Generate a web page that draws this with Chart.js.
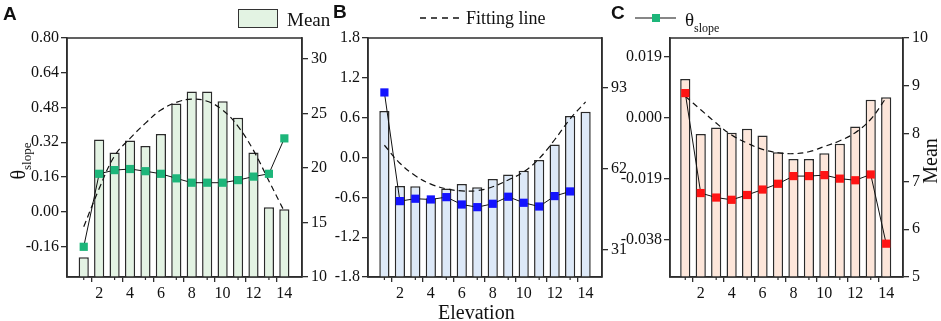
<!DOCTYPE html>
<html><head><meta charset="utf-8">
<script src="https://cdn.jsdelivr.net/npm/chart.js@4.4.1/dist/chart.umd.min.js"></script>
<style>
html,body{margin:0;padding:0;background:#fff;width:941px;height:321px;overflow:hidden;}
canvas{position:absolute;left:0;top:0;}
.t{position:absolute;font-family:'Liberation Serif','Times New Roman',serif;color:#111;white-space:nowrap;line-height:1;}
.lt{position:absolute;font-family:'Liberation Sans',Arial,sans-serif;font-weight:bold;font-size:19px;line-height:1;color:#111;}
svg{position:absolute;}
</style></head><body>
<canvas id="cA" width="941" height="321"></canvas>
<canvas id="cB" width="941" height="321"></canvas>
<canvas id="cC" width="941" height="321"></canvas>

<div class="lt" style="left:3px;top:4px">A</div>
<div class="lt" style="left:333px;top:2px">B</div>
<div class="lt" style="left:611px;top:3px">C</div>

<div style="position:absolute;left:238px;top:9px;width:40px;height:19px;box-sizing:border-box;background:#e3f3e3;border:1.5px solid #333;"></div>
<div class="t" style="left:287px;top:10px;font-size:19px;">Mean</div>

<svg style="left:418px;top:12px" width="46" height="12"><line x1="2" y1="6" x2="43" y2="6" stroke="#111" stroke-width="1.3" stroke-dasharray="6 5"/></svg>
<div class="t" style="left:466px;top:9px;font-size:18px;">Fitting line</div>

<svg style="left:633px;top:12px" width="46" height="12"><line x1="2" y1="6" x2="43" y2="6" stroke="#111" stroke-width="1.2"/><rect x="19" y="2" width="8" height="8" fill="#1db67a"/></svg>
<div class="t" style="left:685px;top:10px;font-size:19px;">θ<span style="font-size:12px;position:relative;top:6px;">slope</span></div>

<div class="t" style="left:-12px;top:151px;width:60px;text-align:center;font-size:20px;transform:rotate(-90deg);">θ<span style="font-size:13px;position:relative;top:6px;">slope</span></div>
<div class="t" style="left:900px;top:151px;width:60px;text-align:center;font-size:20px;transform:rotate(-90deg);">Mean</div>
<div class="t" style="left:438px;top:302px;font-size:20px;">Elevation</div>

<script>
const elevation = [1,2,3,4,5,6,7,8,9,10,11,12,13,14];

const meanA  = [11.8,22.6,21.4,22.5,22.0,23.1,25.9,27.0,27.0,26.1,24.6,21.4,16.4,16.2];
const slopeA = [-0.161,0.175,0.192,0.197,0.187,0.175,0.154,0.134,0.134,0.134,0.146,0.162,0.175,0.338];
const fitA   = [14.6,18.1,21.1,22.7,24.1,25.3,26.0,26.3,26.1,25.3,23.8,21.6,18.8,16.0];

const meanB  = [84.0,55.3,55.2,50.6,54.3,56.0,54.8,58.0,59.7,61.1,65.2,71.2,82.1,83.7];
const slopeB = [0.98,-0.657,-0.621,-0.632,-0.597,-0.708,-0.748,-0.697,-0.591,-0.682,-0.738,-0.581,-0.511,null];
const fitB   = [70.9,64.0,59.2,56.0,54.2,53.4,53.5,55.0,57.6,60.7,65.8,73.0,81.0,87.5];

const meanC  = [9.14,7.99,8.13,8.02,8.10,7.96,7.61,7.47,7.47,7.59,7.79,8.15,8.71,8.76];
const slopeC = [0.0077,-0.0235,-0.0249,-0.0256,-0.0241,-0.0224,-0.0206,-0.0182,-0.0182,-0.0179,-0.0190,-0.0195,-0.0177,-0.0393];
const fitC   = [8.78,8.50,8.22,7.97,7.80,7.67,7.60,7.58,7.62,7.73,7.85,8.02,8.30,8.75];

const ticksLeftA  = [-0.16,0.00,0.16,0.32,0.48,0.64,0.80];
const ticksRightA = [10,15,20,25,30];
const ticksLeftB  = [-1.8,-1.2,-0.6,0.0,0.6,1.2,1.8];
const ticksRightB = [31,62,93];
const ticksLeftC  = [-0.038,-0.019,0.000,0.019];
const ticksRightC = [5,6,7,8,9,10];

const FONT = {family:"'Liberation Serif','Times New Roman',serif", size:16};
const AX = '#2e2e2e';

function pts(arr){
  return elevation.map((x,i)=>({x:x, y:arr[i]})).filter(p=>p.y!==null);
}

const framePlugin = {
  id:'frame',
  afterDatasetsDraw(chart){
    const a = chart.chartArea, c = chart.ctx, xs = chart.scales.x;
    c.save();
    c.strokeStyle = AX; c.lineWidth = 1.5;
    c.strokeRect(a.left, a.top, a.right-a.left, a.bottom-a.top);
    c.lineWidth = 1.2;
    elevation.forEach(v=>{
      if (v % 2) {
        const px = xs.getPixelForValue(v);
        c.beginPath(); c.moveTo(px, a.bottom); c.lineTo(px, a.bottom+3); c.stroke();
      }
    });
    c.restore();
  }
};

function panel(id, o){
  return new Chart(document.getElementById(id), {
    type:'bar',
    data:{
      datasets:[
        {type:'line', data:pts(o.slope), yAxisID:'yL', borderColor:'#111', borderWidth:1,
         pointStyle:'rect', pointRadius:5.8, pointHoverRadius:5.8, pointBackgroundColor:o.mk, pointBorderWidth:0,
         tension:0, order:1},
        {type:'line', data:pts(o.fit), yAxisID:'yR', borderColor:'#111', borderWidth:1.2, borderDash:[6,4],
         pointRadius:0, tension:0.4, order:2},
        {type:'bar', data:pts(o.mean), yAxisID:'yR', backgroundColor:o.fill, borderColor:'#2a2a2a', borderWidth:1.5,
         borderSkipped:false, barPercentage:0.66, categoryPercentage:1, order:3}
      ]
    },
    options:{
      responsive:false, animation:false,
      layout:{padding:o.pad},
      plugins:{legend:{display:false}, tooltip:{enabled:false}},
      scales:{
        x:{type:'linear', min:o.xmin, max:o.xmax,
           afterBuildTicks:s=>{s.ticks = elevation.map(v=>({value:v}));},
           afterFit:s=>{s.height = 30;},
           grid:{drawOnChartArea:false, tickLength:5, lineWidth:1.3,
                 tickColor:c=> (c.tick && c.tick.value % 2 === 0) ? AX : 'rgba(0,0,0,0)'},
           border:{color:AX, width:1.5},
           ticks:{font:FONT, color:'#111', padding:2, maxRotation:0, autoSkip:false,
                  callback:v=> (v % 2 === 0) ? String(v) : ''}},
        yL:{position:'left', min:o.lmin, max:o.lmax,
           afterBuildTicks:s=>{s.ticks = o.tL.map(v=>({value:v}));},
           afterFit:s=>{s.width = 50;},
           grid:{drawOnChartArea:false, tickLength:6, color:AX, lineWidth:1.3},
           border:{color:AX, width:1.5},
           ticks:{font:FONT, color:'#111', padding:2, callback:v=> Number(v).toFixed(o.dL)}},
        yR:{position:'right', min:o.rmin, max:o.rmax,
           afterBuildTicks:s=>{s.ticks = o.tR.map(v=>({value:v}));},
           afterFit:s=>{s.width = o.rw;},
           grid:{drawOnChartArea:false, tickLength:6, color:AX, lineWidth:1.3},
           border:{color:AX, width:1.5},
           ticks:{font:FONT, color:'#111', padding:3, callback:v=> String(Math.round(v))}}
      }
    },
    plugins:[framePlugin]
  });
}

panel('cA', {slope:slopeA, mean:meanA, fit:fitA, mk:'#1db67a', fill:'#e3f3e3',
  pad:{left:17, right:599, top:38, bottom:14}, xmin:0.46, xmax:14.6,
  lmin:-0.30, lmax:0.80, tL:ticksLeftA, dL:2, rmin:10, rmax:31.9, tR:ticksRightA, rw:40});
panel('cB', {slope:slopeB, mean:meanB, fit:fitB, mk:'#1414ff', fill:'#dde9f8',
  pad:{left:318, right:299, top:38, bottom:14}, xmin:0.48, xmax:14.52,
  lmin:-1.8, lmax:1.8, tL:ticksLeftB, dL:1, rmin:20.4, rmax:112, tR:ticksRightB, rw:40});
panel('cC', {slope:slopeC, mean:meanC, fit:fitC, mk:'#ff1414', fill:'#fde6da',
  pad:{left:620, right:8, top:38, bottom:14}, xmin:0.55, xmax:14.55,
  lmin:-0.0497, lmax:0.0249, tL:ticksLeftC, dL:3, rmin:5, rmax:10, tR:ticksRightC, rw:30});
</script>
</body></html>
